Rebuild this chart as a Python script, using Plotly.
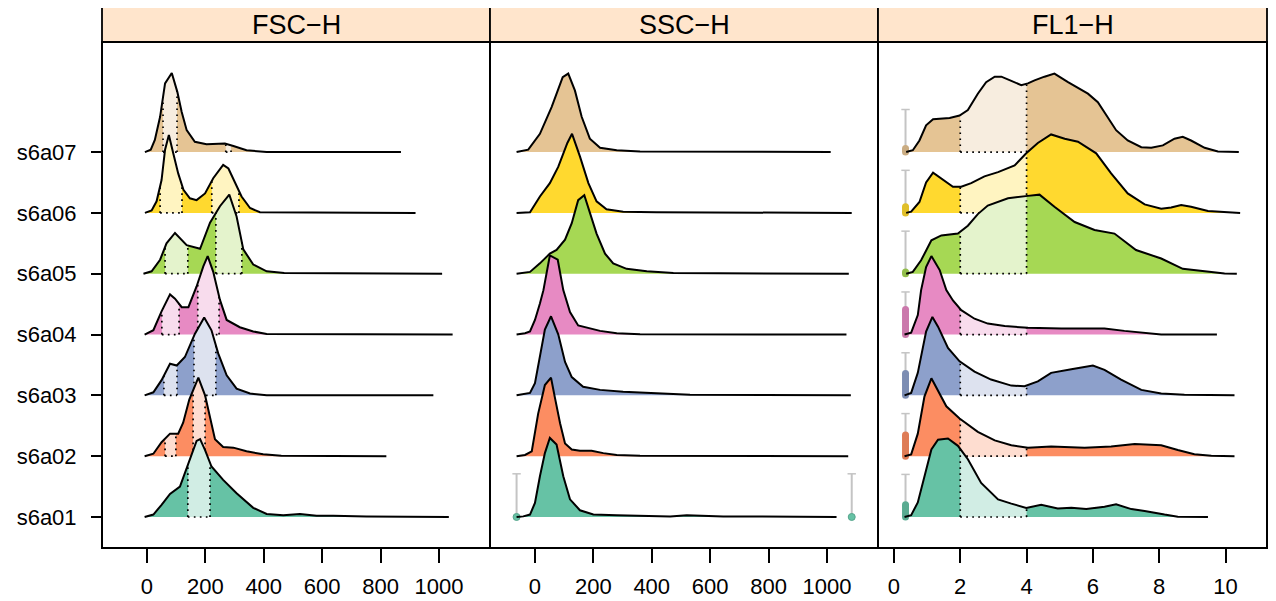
import numpy as np
import plotly.graph_objects as go

# ---------------- data ----------------
samples = ["s6a01", "s6a02", "s6a03", "s6a04", "s6a05", "s6a06", "s6a07"]
sample_colors = ["#66C2A5", "#FC8D62", "#8DA0CB", "#E78AC3", "#A6D854", "#FFD92F", "#E5C494"]
channels = ["FSC−H", "SSC−H", "FL1−H"]
scatter_ticks = [0, 200, 400, 600, 800, 1000]
fl1_ticks = [0, 2, 4, 6, 8, 10]

# FSC-H densities (x value, height in row units)
fsc_s6a07_x = [-7, 13, 27, 45, 62, 85, 104, 119, 136, 164, 204, 267, 296, 341, 410, 870]
fsc_s6a07_h = [0, 0.04, 0.2, 0.58, 1.13, 1.30, 0.99, 0.66, 0.36, 0.17, 0.13, 0.14, 0.10, 0.03, 0, 0]
fsc_s6a06_x = [-7, 16, 33, 50, 62, 75, 90, 107, 125, 147, 170, 199, 227, 261, 279, 301, 324, 353, 387, 920]
fsc_s6a06_h = [0, 0.04, 0.19, 0.54, 1.04, 1.28, 0.98, 0.65, 0.38, 0.24, 0.21, 0.32, 0.57, 0.79, 0.73, 0.51, 0.27, 0.08, 0.01, 0]
fsc_s6a05_x = [-12, 16, 45, 67, 96, 136, 182, 216, 250, 282, 307, 330, 364, 410, 470, 1011]
fsc_s6a05_h = [0, 0.04, 0.23, 0.5, 0.67, 0.47, 0.41, 0.84, 1.11, 1.3, 0.94, 0.4, 0.15, 0.04, 0.01, 0]
fsc_s6a04_x = [-8, 22, 50, 79, 96, 119, 142, 170, 193, 208, 227, 250, 273, 318, 364, 410, 1047]
fsc_s6a04_h = [0, 0.07, 0.38, 0.66, 0.59, 0.45, 0.45, 0.79, 1.12, 1.29, 1.03, 0.57, 0.24, 0.12, 0.05, 0.01, 0]
fsc_s6a03_x = [-8, 22, 50, 79, 102, 130, 164, 196, 221, 244, 273, 307, 353, 410, 981]
fsc_s6a03_h = [0, 0.05, 0.25, 0.52, 0.49, 0.63, 1.01, 1.28, 1.07, 0.69, 0.33, 0.11, 0.03, 0, 0]
fsc_s6a02_x = [-8, 22, 50, 79, 107, 124, 145, 176, 199, 216, 233, 261, 296, 341, 398, 460, 820]
fsc_s6a02_h = [0, 0.04, 0.23, 0.37, 0.37, 0.55, 0.93, 1.29, 1.0, 0.66, 0.28, 0.15, 0.14, 0.08, 0.03, 0.005, 0]
fsc_s6a01_x = [-8, 22, 50, 79, 113, 142, 170, 182, 199, 221, 261, 307, 364, 410, 467, 524, 581, 638, 752, 1034]
fsc_s6a01_h = [0, 0.04, 0.2, 0.38, 0.5, 0.88, 1.25, 1.28, 1.1, 0.83, 0.61, 0.39, 0.15, 0.05, 0.03, 0.05, 0.02, 0.02, 0.01, 0]

# FSC-H gate ranges per sample
fsc_gates_s6a01 = [(140, 216)]
fsc_gates_s6a02 = [(62, 99), (158, 199)]
fsc_gates_s6a03 = [(58, 103), (161, 236)]
fsc_gates_s6a04 = [(51, 110), (174, 247)]
fsc_gates_s6a05 = [(62, 140), (236, 325)]
fsc_gates_s6a06 = [(45, 120), (222, 315)]
fsc_gates_s6a07 = [(55, 103), (270, 288)]

# SSC-H densities
ssc_s6a07_x = [-63, -23, 17, 57, 95, 114, 137, 160, 188, 223, 280, 360, 1013]
ssc_s6a07_h = [0, 0.04, 0.3, 0.74, 1.23, 1.29, 1.01, 0.58, 0.22, 0.07, 0.03, 0.01, 0]
ssc_s6a06_x = [-63, -17, 17, 51, 80, 111, 127, 154, 183, 211, 245, 302, 416, 1085]
ssc_s6a06_h = [0, 0.01, 0.27, 0.49, 0.76, 1.15, 1.3, 0.93, 0.49, 0.19, 0.06, 0.02, 0.01, 0]
ssc_s6a05_x = [-63, -17, 17, 51, 74, 103, 126, 148, 169, 188, 211, 240, 268, 314, 383, 474, 1075]
ssc_s6a05_h = [0, 0.03, 0.17, 0.33, 0.39, 0.56, 0.83, 1.21, 1.29, 0.99, 0.66, 0.33, 0.17, 0.08, 0.04, 0.01, 0]
ssc_s6a04_x = [-63, -34, -17, 0, 17, 29, 51, 78, 97, 120, 148, 188, 223, 280, 360, 1067]
ssc_s6a04_h = [0, 0.02, 0.05, 0.24, 0.51, 0.73, 1.3, 1.23, 0.73, 0.37, 0.15, 0.1, 0.06, 0.02, 0.005, 0]
ssc_s6a03_x = [-63, -17, 0, 17, 34, 55, 80, 103, 126, 165, 223, 302, 417, 531, 1082]
ssc_s6a03_h = [0, 0.04, 0.2, 0.64, 1.08, 1.3, 1.0, 0.55, 0.3, 0.14, 0.09, 0.06, 0.03, 0.01, 0]
ssc_s6a02_x = [-63, -34, -11, 11, 34, 55, 68, 86, 103, 126, 154, 194, 234, 280, 360, 1073]
ssc_s6a02_h = [0, 0.02, 0.08, 0.7, 1.17, 1.29, 0.97, 0.54, 0.21, 0.11, 0.09, 0.09, 0.05, 0.02, 0.005, 0]
ssc_s6a01_x = [-63, -40, -17, 0, 17, 34, 51, 74, 97, 120, 154, 200, 280, 383, 463, 520, 645, 1033]
ssc_s6a01_h = [0, 0.01, 0.04, 0.23, 0.67, 1.05, 1.3, 1.19, 0.67, 0.29, 0.11, 0.04, 0.03, 0.025, 0.01, 0.03, 0.01, 0]

# SSC-H margin events (s6a01 only): positions and whisker height
ssc_margin_x = [-63, 1085]
ssc_margin_whisker = 0.71

# FL1-H densities
fl1_s6a07_x = [0.37, 0.57, 0.77, 0.97, 1.18, 1.68, 1.98, 2.23, 2.53, 2.78, 3.04, 3.24, 3.54, 3.84, 4.04, 4.24, 4.54, 4.84, 5.25, 5.85, 6.15, 6.7, 7.05, 7.46, 7.76, 8.11, 8.46, 8.71, 8.96, 9.37, 9.77, 10.4]
fl1_s6a07_h = [0, 0.03, 0.19, 0.44, 0.54, 0.56, 0.6, 0.69, 0.96, 1.15, 1.24, 1.24, 1.17, 1.1, 1.13, 1.18, 1.24, 1.29, 1.15, 0.96, 0.82, 0.36, 0.19, 0.08, 0.07, 0.11, 0.22, 0.25, 0.19, 0.07, 0.01, 0]
fl1_s6a06_x = [0.37, 0.52, 0.77, 0.97, 1.18, 1.43, 1.78, 2.03, 2.33, 2.73, 3.14, 3.64, 3.99, 4.34, 4.74, 5.15, 5.55, 6.1, 6.55, 7.05, 7.56, 8.06, 8.36, 8.66, 8.96, 9.47, 9.97, 10.44]
fl1_s6a06_h = [0, 0.02, 0.18, 0.5, 0.66, 0.56, 0.43, 0.43, 0.49, 0.6, 0.67, 0.78, 0.98, 1.15, 1.29, 1.22, 1.17, 0.98, 0.65, 0.32, 0.14, 0.07, 0.09, 0.13, 0.1, 0.03, 0.01, 0]
fl1_s6a05_x = [0.37, 0.57, 0.82, 1.13, 1.43, 1.93, 2.23, 2.53, 2.83, 3.44, 4.04, 4.39, 4.84, 5.45, 6.05, 6.65, 7.3, 8.06, 8.71, 9.47, 9.97, 10.34]
fl1_s6a05_h = [0, 0.03, 0.22, 0.55, 0.63, 0.66, 0.79, 0.98, 1.12, 1.24, 1.28, 1.3, 1.1, 0.85, 0.72, 0.66, 0.39, 0.25, 0.08, 0.03, 0.005, 0]
fl1_s6a04_x = [0.32, 0.52, 0.72, 0.82, 0.97, 1.13, 1.38, 1.58, 1.78, 2.03, 2.43, 2.83, 3.34, 4.04, 5.05, 6.35, 6.95, 7.56, 8.06, 9.74]
fl1_s6a04_h = [0, 0.03, 0.32, 0.73, 1.11, 1.29, 1.06, 0.73, 0.56, 0.4, 0.26, 0.18, 0.14, 0.11, 0.1, 0.1, 0.06, 0.03, 0, 0]
fl1_s6a03_x = [0.32, 0.52, 0.72, 0.97, 1.16, 1.33, 1.63, 1.98, 2.43, 2.93, 3.54, 3.94, 4.34, 4.74, 5.35, 6.0, 6.35, 6.85, 7.46, 8.06, 8.76, 10.27]
fl1_s6a03_h = [0, 0.04, 0.37, 1.05, 1.29, 1.13, 0.78, 0.56, 0.39, 0.26, 0.16, 0.15, 0.23, 0.37, 0.43, 0.49, 0.42, 0.26, 0.09, 0.03, 0.01, 0]
fl1_s6a02_x = [0.32, 0.52, 0.72, 0.92, 1.13, 1.33, 1.58, 1.98, 2.53, 3.04, 3.54, 4.04, 4.74, 5.75, 6.55, 7.26, 8.06, 8.56, 9.06, 9.57, 10.27]
fl1_s6a02_h = [0, 0.03, 0.37, 0.98, 1.28, 1.08, 0.82, 0.62, 0.4, 0.26, 0.18, 0.14, 0.16, 0.14, 0.16, 0.2, 0.18, 0.1, 0.03, 0.005, 0]
fl1_s6a01_x = [0.32, 0.52, 0.72, 0.92, 1.13, 1.33, 1.63, 1.93, 2.23, 2.63, 3.14, 3.54, 3.99, 4.44, 4.94, 5.35, 5.8, 6.35, 6.7, 7.16, 7.56, 8.16, 8.56, 9.47]
fl1_s6a01_h = [0, 0.03, 0.24, 0.67, 1.11, 1.27, 1.29, 1.17, 0.95, 0.56, 0.29, 0.22, 0.15, 0.2, 0.14, 0.15, 0.13, 0.17, 0.21, 0.13, 0.1, 0.04, 0.005, 0]

# FL1-H gate (same for all samples)
fl1_gate = [(2, 4)]
# FL1-H margin events at the low edge
fl1_margin_x = 0.35
fl1_margin_whisker = 0.70
fl1_margin_box = [0.2, 0.35, 0.36, 0.41, 0.03, 0.1, 0.06]   # s6a01..s6a07

# ---------------- helpers ----------------
def hex2rgb(h):
    h = h.lstrip("#")
    return tuple(int(h[i:i + 2], 16) for i in (0, 2, 4))

def light(h, a=0.3):
    r, g, b = hex2rgb(h)
    return "rgb(%d,%d,%d)" % tuple(round(255 - a * (255 - c)) for c in (r, g, b))

def dark(h, f=0.88):
    r, g, b = hex2rgb(h)
    return "rgb(%d,%d,%d)" % tuple(round(c * f) for c in (r, g, b))

fsc_curves = {"s6a01": (fsc_s6a01_x, fsc_s6a01_h), "s6a02": (fsc_s6a02_x, fsc_s6a02_h),
              "s6a03": (fsc_s6a03_x, fsc_s6a03_h), "s6a04": (fsc_s6a04_x, fsc_s6a04_h),
              "s6a05": (fsc_s6a05_x, fsc_s6a05_h), "s6a06": (fsc_s6a06_x, fsc_s6a06_h),
              "s6a07": (fsc_s6a07_x, fsc_s6a07_h)}
ssc_curves = {"s6a01": (ssc_s6a01_x, ssc_s6a01_h), "s6a02": (ssc_s6a02_x, ssc_s6a02_h),
              "s6a03": (ssc_s6a03_x, ssc_s6a03_h), "s6a04": (ssc_s6a04_x, ssc_s6a04_h),
              "s6a05": (ssc_s6a05_x, ssc_s6a05_h), "s6a06": (ssc_s6a06_x, ssc_s6a06_h),
              "s6a07": (ssc_s6a07_x, ssc_s6a07_h)}
fl1_curves = {"s6a01": (fl1_s6a01_x, fl1_s6a01_h), "s6a02": (fl1_s6a02_x, fl1_s6a02_h),
              "s6a03": (fl1_s6a03_x, fl1_s6a03_h), "s6a04": (fl1_s6a04_x, fl1_s6a04_h),
              "s6a05": (fl1_s6a05_x, fl1_s6a05_h), "s6a06": (fl1_s6a06_x, fl1_s6a06_h),
              "s6a07": (fl1_s6a07_x, fl1_s6a07_h)}
fsc_gates = {"s6a01": fsc_gates_s6a01, "s6a02": fsc_gates_s6a02, "s6a03": fsc_gates_s6a03,
             "s6a04": fsc_gates_s6a04, "s6a05": fsc_gates_s6a05, "s6a06": fsc_gates_s6a06,
             "s6a07": fsc_gates_s6a07}

panels = [("x", fsc_curves, lambda s: fsc_gates[s]),
          ("x2", ssc_curves, lambda s: []),
          ("x3", fl1_curves, lambda s: fl1_gate)]

fig = go.Figure()
skip = dict(hoverinfo="skip", showlegend=False)
GREY = "#C4C4C4"

for xa, curves, gates_of in panels:
    for idx in range(len(samples) - 1, -1, -1):
        s = samples[idx]
        col = sample_colors[idx]
        base = idx + 1
        xs = np.array(curves[s][0], float)
        hs = np.array(curves[s][1], float)
        ys = base + hs
        # margin event markers (drawn under the density)
        if xa == "x3":
            fig.add_trace(go.Scatter(x=[fl1_margin_x, fl1_margin_x], y=[base, base + fl1_margin_whisker],
                                     mode="lines", line=dict(color=GREY, width=2), xaxis=xa, yaxis="y", **skip))
            fig.add_trace(go.Scatter(x=[fl1_margin_x], y=[base + fl1_margin_whisker], mode="markers",
                                     marker=dict(symbol="line-ew", size=6, line=dict(color=GREY, width=1.5)),
                                     xaxis=xa, yaxis="y", **skip))
            top = base + fl1_margin_box[idx]
            fig.add_trace(go.Scatter(x=[fl1_margin_x, fl1_margin_x], y=[base, top], mode="lines+markers",
                                     line=dict(color=dark(col), width=7),
                                     marker=dict(size=7, color=dark(col), line=dict(width=0)),
                                     xaxis=xa, yaxis="y", **skip))
        if xa == "x2" and s == "s6a01":
            for mx in ssc_margin_x:
                fig.add_trace(go.Scatter(x=[mx, mx], y=[base, base + ssc_margin_whisker], mode="lines",
                                         line=dict(color=GREY, width=2), xaxis=xa, yaxis="y", **skip))
                fig.add_trace(go.Scatter(x=[mx], y=[base + ssc_margin_whisker], mode="markers",
                                         marker=dict(symbol="line-ew", size=6, line=dict(color=GREY, width=1.5)),
                                         xaxis=xa, yaxis="y", **skip))
                fig.add_trace(go.Scatter(x=[mx], y=[base], mode="markers",
                                         marker=dict(size=7, color=col, line=dict(color=dark(col, 0.85), width=1)),
                                         xaxis=xa, yaxis="y", **skip))
        # full filled density
        px = np.concatenate([[xs[0]], xs, [xs[-1]]])
        py = np.concatenate([[base], ys, [base]])
        fig.add_trace(go.Scatter(x=px, y=py, mode="lines", fill="toself", fillcolor=col,
                                 line=dict(width=0, color=col), xaxis=xa, yaxis="y", **skip))
        # gated (light) regions
        dx, dy = [], []
        for a, b in gates_of(s):
            ha, hb = np.interp(a, xs, hs), np.interp(b, xs, hs)
            inside = (xs > a) & (xs < b)
            gx = np.concatenate([[a, a], xs[inside], [b, b]])
            gy = np.concatenate([[base, base + ha], ys[inside], [base + hb, base]])
            fig.add_trace(go.Scatter(x=gx, y=gy, mode="lines", fill="toself", fillcolor=light(col),
                                     line=dict(width=0, color=light(col)), xaxis=xa, yaxis="y", **skip))
            dx += [a, a, None, b, b, None, a, b, None]
            dy += [base, base + ha, None, base, base + hb, None, base, base, None]
        if dx:
            fig.add_trace(go.Scatter(x=dx, y=dy, mode="lines", line=dict(color="black", width=1.7, dash="1.7px,4.3px"),
                                     xaxis=xa, yaxis="y", **skip))
        # outline
        fig.add_trace(go.Scatter(x=xs, y=ys, mode="lines", line=dict(color="black", width=2),
                                 xaxis=xa, yaxis="y", **skip))

# dummy trace so right-side tick axis renders
fig.add_trace(go.Scatter(x=[None], y=[None], xaxis="x3", yaxis="y2", **skip))

# the page body adds an 8px margin, so the figure is sized/positioned to compensate
OFF = 8
W, H = 1276 - OFF, 601 - OFF
def fx(p): return (p - OFF) / W
def fy(p): return 1 - (p - OFF) / H

x_domains = [[fx(102), fx(490)], [fx(490), fx(878)], [fx(878), fx(1267)]]
y_domain = [fy(548), fy(42)]
yrange = [0.49, 8.81]
tickfont = dict(family="Liberation Sans, Arial, sans-serif", size=22, color="black")

axis_common = dict(showgrid=False, zeroline=False, showline=False, ticks="outside",
                   ticklen=14, tickwidth=1.5, tickcolor="black", tickfont=tickfont, anchor="y",
                   ticklabelstandoff=5)
fig.update_layout(
    xaxis=dict(domain=x_domains[0], range=[-154, 1175], tickvals=scatter_ticks, **axis_common),
    xaxis2=dict(domain=x_domains[1], range=[-154, 1175], tickvals=scatter_ticks, **axis_common),
    xaxis3=dict(domain=x_domains[2], range=[-0.48, 11.25], tickvals=fl1_ticks, **axis_common),
    yaxis=dict(domain=y_domain, range=yrange, anchor="x", tickvals=list(range(1, 8)), ticktext=samples,
               showgrid=False, zeroline=False, showline=False, ticks="outside", ticklen=10, tickwidth=1.5,
               tickcolor="black", tickfont=tickfont, ticklabelstandoff=10),
    yaxis2=dict(domain=y_domain, range=yrange, overlaying="y", side="right", anchor="free", position=fx(1267),
                tickvals=list(range(1, 8)), showticklabels=False, showgrid=False, zeroline=False,
                showline=False, ticks="outside", ticklen=10, tickwidth=1.5, tickcolor="black"),
    width=W, height=H, autosize=False,
    margin=dict(l=0, r=0, t=0, b=0, pad=0),
    paper_bgcolor="white", plot_bgcolor="white",
    showlegend=False,
)

shapes = []
annotations = []
for i, xa in enumerate(["x", "x2", "x3"]):
    shapes.append(dict(type="rect", xref=xa + " domain", yref="paper", x0=0, x1=1,
                       y0=fy(42), y1=fy(7), fillcolor="#FFE5CC", line=dict(color="black", width=1.8),
                       layer="above"))
    shapes.append(dict(type="rect", xref=xa + " domain", yref="paper", x0=0, x1=1,
                       y0=y_domain[0], y1=y_domain[1], fillcolor="rgba(0,0,0,0)",
                       line=dict(color="black", width=2), layer="above"))
    annotations.append(dict(text=channels[i], xref=xa + " domain", yref="paper", x=0.5,
                            y=(fy(42) + fy(7)) / 2, showarrow=False, xanchor="center", yanchor="middle",
                            font=dict(family="Liberation Sans, Arial, sans-serif", size=27, color="black")))
fig.update_layout(shapes=shapes, annotations=annotations)

fig.write_html("out.html", config={"displayModeBar": False})
